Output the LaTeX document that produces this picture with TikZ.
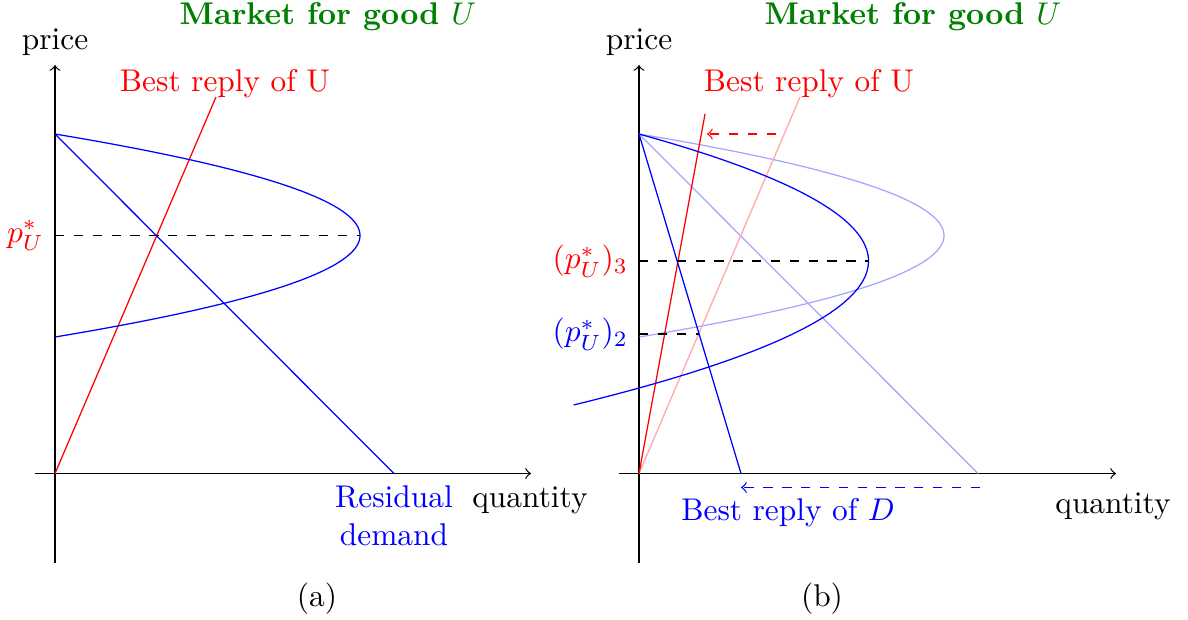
\documentclass[tikz,border=0pt]{standalone}
\usepackage{amsmath}
\definecolor{titlegreen}{rgb}{0,0.5,0}
\begin{document}
\begin{tikzpicture}[x=0.3184pt,y=-0.3184pt,
  lab/.style={anchor=base, inner sep=0pt},
  ttl/.style={anchor=base, inner sep=0pt, text=titlegreen, font=\bfseries},
  faintblue/.style={blue!35},
  faintred/.style={red!35},
  guide/.style={dashed}
]
\useasboundingbox (0,0) rectangle (1188,619);

% ---------------- panel (a) ----------------
\coordinate (Oa)  at (55,473.5);
\coordinate (Ya)  at (55,65);
\coordinate (Yab) at (55,563);
\coordinate (Xal) at (35,473.5);
\coordinate (Xa)  at (531,473.5);
\draw[->] (Yab) -- (Ya);
\draw[->] (Xal) -- (Xa);

\coordinate (Aa) at (55,134);
\coordinate (Ra) at (216,97);
\coordinate (Da) at (394,473.5);
\draw[red] (Oa) -- (Ra);
\draw[blue] (Aa) -- (Da);
\draw[blue] plot[domain=-1:1,samples=90] ({360-305*\x*\x},{235.5+101.5*\x});

\coordinate (Pa) at (55,235.5);
\coordinate (Va) at (360,235.5);
\draw[guide] (Pa) -- (Va);

\node[ttl] (titlea) at (328,24) {Market for good $U$};
\node[lab] (pricea) at (55,49) {price};
\node[lab,red] (bra) at (225,91) {Best reply of U};
\node[red,left] (pua) at (Pa) {$p_U^*$};
\node[blue,align=center,anchor=north] (resa) at (394,475) {Residual\\demand};
\node[lab] (quanta) at (530,507) {quantity};
\node[lab] (capa) at (317,606) {(a)};

% ---------------- panel (b) ----------------
\coordinate (Ob)  at (639,473.5);
\coordinate (Yb)  at (639,65);
\coordinate (Ybb) at (639,563);
\coordinate (Xbl) at (619,473.5);
\coordinate (Xb)  at (1116,473.5);
\draw[->] (Ybb) -- (Yb);
\draw[->] (Xbl) -- (Xb);

\coordinate (Ab)  at (639,134);
\coordinate (Rbo) at (800,97);
\coordinate (Dbo) at (978,473.5);
\coordinate (Rb)  at (705,114);
\coordinate (Db)  at (741,473.5);

% old (faint) curves
\draw[faintblue] plot[domain=-1:1,samples=90] ({944-305*\x*\x},{235.5+101.5*\x});
\draw[faintblue] (Ab) -- (Dbo);
\draw[faintred] (Ob) -- (Rbo);

% new curves
\draw[red] (Ob) -- (Rb);
\draw[blue] (Ab) -- (Db);
\draw[blue] plot[domain=-1:1.134,samples=90] ({868.5-229.5*\x*\x},{261+127*\x});

\coordinate (P3) at (639,261);
\coordinate (V3) at (868.5,261);
\draw[guide] (P3) -- (V3);
\coordinate (P2) at (639,334);
\coordinate (E2) at (699,334);
\draw[guide] (P2) -- (E2);

\coordinate (ra1) at (776,134);
\coordinate (ra2) at (707,134);
\draw[red,dashed,->] (ra1) -- (ra2);
\coordinate (ba1) at (980,487.5);
\coordinate (ba2) at (741,487.5);
\draw[blue,dashed,->] (ba1) -- (ba2);

\node[ttl] (titleb) at (913,24) {Market for good $U$};
\node[lab] (priceb) at (639,49) {price};
\node[lab,red] (brb) at (809,91) {Best reply of U};
\node[red,left] (pu3) at (P3) {$(p_U^*)_3$};
\node[blue,left] (pu2) at (P2) {$(p_U^*)_2$};
\node[lab,blue] (brd) at (788,520) {Best reply of $D$};
\node[lab] (quantb) at (1113,513) {quantity};
\node[lab] (capb) at (822,606) {(b)};
\end{tikzpicture}
\end{document}
